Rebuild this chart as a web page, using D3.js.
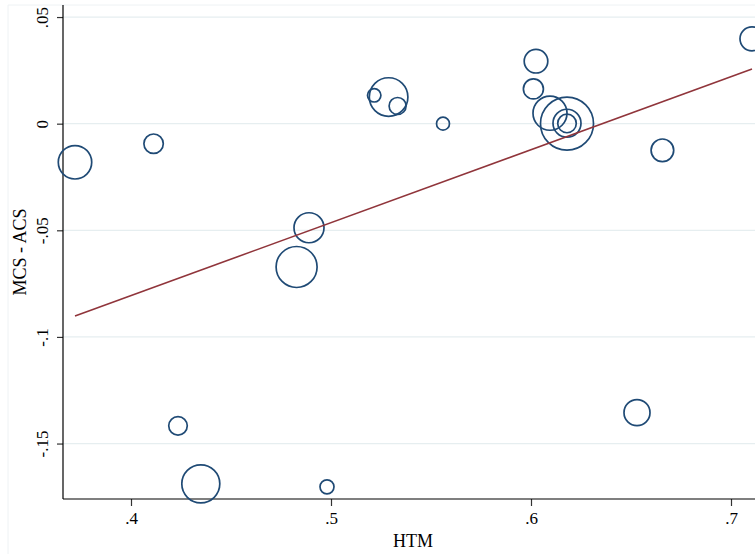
<!DOCTYPE html>
<html>
<head>
<meta charset="utf-8">
<script src="https://cdn.jsdelivr.net/npm/d3@7"></script>
<style>
  html, body { margin: 0; padding: 0; background: #fff; }
  svg { display: block; }
  text { font-family: "Liberation Serif", "Times New Roman", serif; fill: #000; }
</style>
</head>
<body>
<script>
// ---- data ----
const htm = [0.372, 0.4113, 0.4235, 0.4349, 0.4828, 0.489, 0.498, 0.5216, 0.5288, 0.5333,
             0.556, 0.6025, 0.6012, 0.6095, 0.618, 0.618, 0.618, 0.6657, 0.653, 0.7105];
const diff = [-0.0181, -0.0094, -0.1417, -0.1689, -0.0672, -0.0488, -0.1703, 0.0133, 0.0125, 0.0083,
              0.0, 0.0293, 0.0163, 0.0049, 0.0, 0.0002, 0.0001, -0.0125, -0.1355, 0.0398];
const weight = [279, 94, 86, 361, 420, 225, 49, 45, 372, 72,
                42, 139, 100, 289, 702, 196, 86, 128, 169, 144];
const fitX = [0.372, 0.7105];
const fitY = [-0.0902, 0.0256];
const xTicks = [0.4, 0.5, 0.6, 0.7];
const xTickLabels = [".4", ".5", ".6", ".7"];
const yTicks = [0.05, 0, -0.05, -0.1, -0.15];
const yTickLabels = [".05", "0", "-.05", "-.1", "-.15"];
const xTitle = "HTM";
const yTitle = "MCS - ACS";

// ---- layout ----
const W = 755, H = 554;
const mLeft = 63, mTop = 5, mBottom = 499, mRight = 755;

const svg = d3.select("body").append("svg").attr("width", W).attr("height", H);

const x = d3.scaleLinear().domain([0.366, 0.712]).range([mLeft, mRight]);
const y = d3.scaleLinear().domain([-0.1760, 0.05565]).range([mBottom, mTop]);
const r = d3.scaleSqrt().domain([0, d3.max(weight)]).range([0, 26.5]);

// faint outer frame
svg.append("line").attr("x1", 8).attr("x2", W).attr("y1", 5).attr("y2", 5)
  .attr("stroke", "#eef2f4").attr("stroke-width", 1);
svg.append("line").attr("x1", 8).attr("x2", 8).attr("y1", 5).attr("y2", H)
  .attr("stroke", "#eef2f4").attr("stroke-width", 1);

// gridlines
svg.append("g").selectAll("line").data(yTicks).join("line")
  .attr("x1", mLeft).attr("x2", mRight)
  .attr("y1", d => y(d)).attr("y2", d => y(d))
  .attr("stroke", "#e6eef0").attr("stroke-width", 1.3);

// y axis
const yAxis = d3.axisLeft(y).tickValues(yTicks).tickSize(6).tickPadding(9)
  .tickFormat((d, i) => yTickLabels[i]);
const gy = svg.append("g").attr("transform", `translate(${mLeft},0)`).call(yAxis);
gy.select(".domain").remove();
gy.selectAll(".tick line").attr("stroke", "#333").attr("stroke-width", 1.2);
gy.selectAll(".tick text")
  .attr("font-family", "Liberation Serif, Times New Roman, serif")
  .attr("font-size", 17)
  .attr("text-anchor", "middle")
  .attr("x", null).attr("dy", null)
  .attr("transform", "translate(-15,0) rotate(-90)");
gy.append("line").attr("x1", 0).attr("x2", 0).attr("y1", mTop).attr("y2", mBottom)
  .attr("stroke", "#000").attr("stroke-width", 1.2);

// x axis
const xAxis = d3.axisBottom(x).tickValues(xTicks).tickSize(7).tickPadding(6)
  .tickFormat((d, i) => xTickLabels[i]);
const gx = svg.append("g").attr("transform", `translate(0,${mBottom})`).call(xAxis);
gx.select(".domain").remove();
gx.selectAll(".tick line").attr("stroke", "#333").attr("stroke-width", 1.2);
gx.selectAll(".tick text")
  .attr("font-family", "Liberation Serif, Times New Roman, serif")
  .attr("font-size", 17);
gx.append("line").attr("x1", mLeft).attr("x2", mRight).attr("y1", 0).attr("y2", 0)
  .attr("stroke", "#000").attr("stroke-width", 1.2);

// titles
svg.append("text").attr("x", 413).attr("y", 547).attr("text-anchor", "middle")
  .attr("font-size", 18).text(xTitle);
svg.append("text").attr("transform", `translate(26,${(mTop + mBottom) / 2}) rotate(-90)`)
  .attr("text-anchor", "middle").attr("font-size", 18).text(yTitle);

// circles
const pts = htm.map((v, i) => ({ x: v, y: diff[i], w: weight[i] }));
svg.append("g").selectAll("circle").data(pts).join("circle")
  .attr("cx", d => x(d.x)).attr("cy", d => y(d.y)).attr("r", d => r(d.w))
  .attr("fill", "none").attr("stroke", "#1f4a75").attr("stroke-width", 1.7);

// fitted line
svg.append("path")
  .datum(fitX.map((v, i) => [v, fitY[i]]))
  .attr("d", d3.line().x(d => x(d[0])).y(d => y(d[1])))
  .attr("fill", "none").attr("stroke", "#90353b").attr("stroke-width", 1.6);
</script>
</body>
</html>
